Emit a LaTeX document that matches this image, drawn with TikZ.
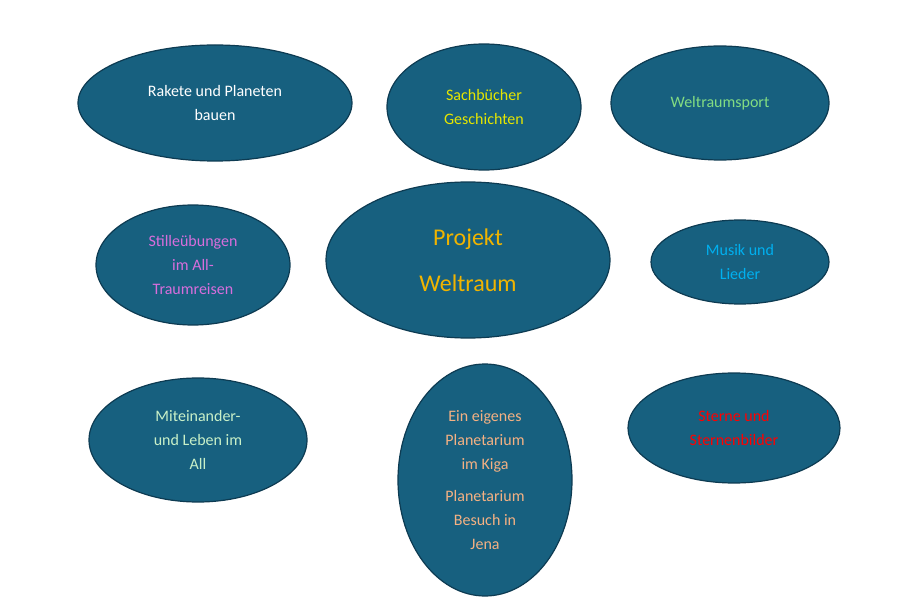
\documentclass[tikz,border=0pt]{standalone}
\usepackage{fontspec}
\setmainfont{Carlito}
\usetikzlibrary{shapes.geometric}
\definecolor{fillb}{HTML}{17607F}
\definecolor{edgeb}{HTML}{0D3B52}
\tikzset{bub/.style={ellipse,draw=edgeb,line width=1.2pt,fill=fillb,inner sep=0pt,align=center,font=\fontsize{16}{24}\selectfont}}
\begin{document}
\begin{tikzpicture}[x=1pt,y=-1pt]
\useasboundingbox (0,0) rectangle (922,599);
\node[bub,minimum width=274,minimum height=116,text=white] (a) at (215,103) {Rakete und Planeten\\bauen};
\node[bub,minimum width=194,minimum height=126,text={rgb,255:red,230;green,230;blue,0}] (b) at (484,107) {Sachbücher\\Geschichten};
\node[bub,minimum width=218,minimum height=114,text={rgb,255:red,130;green,220;blue,130}] (c) at (720,103) {Weltraumsport};
\node[bub,minimum width=194,minimum height=120,text={rgb,255:red,215;green,110;blue,220}] (d) at (193,265) {Stilleübungen\\im All-\\Traumreisen};
\node[bub,minimum width=284,minimum height=156,text={rgb,255:red,240;green,180;blue,0},font=\fontsize{24}{46}\selectfont] (e) at (468,260) {Projekt\\Weltraum};
\node[bub,minimum width=178,minimum height=84,text={rgb,255:red,0;green,176;blue,240}] (f) at (740,262) {Musik und\\Lieder};
\node[bub,minimum width=218,minimum height=124,text={rgb,255:red,200;green,240;blue,200}] (g) at (198,440) {Miteinander-\\und Leben im\\All};
\node[bub,minimum width=174,minimum height=232,text={rgb,255:red,244;green,177;blue,131}] (h) at (485,480) {Ein eigenes\\Planetarium\\im Kiga\\[8pt]Planetarium\\Besuch in\\Jena};
\node[bub,minimum width=212,minimum height=110,text=red] (i) at (734,428) {Sterne und\\Sternenbilder};
\end{tikzpicture}
\end{document}
